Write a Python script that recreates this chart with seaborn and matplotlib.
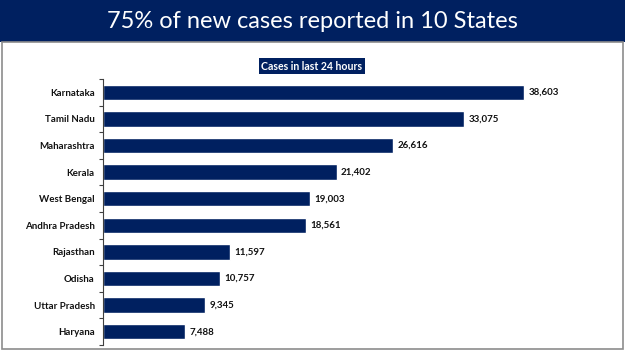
import pandas as pd
import matplotlib
matplotlib.use('Agg')
import matplotlib.pyplot as plt
import seaborn as sns
from matplotlib.patches import Rectangle

states = ['Karnataka', 'Tamil Nadu', 'Maharashtra', 'Kerala', 'West Bengal',
          'Andhra Pradesh', 'Rajasthan', 'Odisha', 'Uttar Pradesh', 'Haryana']
cases = [38603, 33075, 26616, 21402, 19003, 18561, 11597, 10757, 9345, 7488]

NAVY = '#002060'


def main():
    df = pd.DataFrame({'state': states, 'cases': cases})
    sns.set_style('white')
    plt.rcParams['font.family'] = ['Lato', 'DejaVu Sans']

    fig = plt.figure(figsize=(6.25, 3.51), dpi=100)
    W, H = 625, 351

    # title band and panel border
    fig.patches.append(Rectangle((0, 1 - 42 / H), 1, 42 / H, transform=fig.transFigure,
                                 facecolor=NAVY, edgecolor='none', zorder=0))
    fig.patches.append(Rectangle((2 / W, 2 / H), 621 / W, (H - 44) / H, transform=fig.transFigure,
                                 facecolor='none', edgecolor='#8c8c8c', linewidth=1.2, zorder=0))
    fig.text(0.5, 1 - 21 / H, '75% of new cases reported in 10 States', color='white',
             fontsize=17, ha='center', va='center')
    fig.text(312 / W, 1 - 66 / H, 'Cases in last 24 hours', color='white', fontsize=7.6,
             fontweight='bold', ha='center', va='center',
             bbox=dict(boxstyle='square,pad=0.25', facecolor=NAVY, edgecolor='none'))

    ax = fig.add_axes([103 / W, 6 / H, 491 / W, 266 / H])
    sns.barplot(data=df, y='state', x='cases', orient='h', color=NAVY, width=0.58,
                saturation=1, ax=ax)
    ax.set_xlim(0, 45000)
    ax.set_xlabel('')
    ax.set_ylabel('')
    ax.set_xticks([])
    for s in ['top', 'right', 'bottom']:
        ax.spines[s].set_visible(False)
    ax.spines['left'].set_color('#404040')
    ax.spines['left'].set_linewidth(0.8)
    ax.tick_params(axis='y', which='major', length=0, pad=6)
    ax.set_yticks([i - 0.5 for i in range(len(states) + 1)], minor=True)
    ax.tick_params(axis='y', which='minor', left=True, length=3, color='#404040', width=0.8)
    for lbl in ax.get_yticklabels():
        lbl.set_fontweight('bold')
        lbl.set_fontsize(7)
        lbl.set_color('#111111')
    for i, v in enumerate(cases):
        ax.text(v + 400, i, f'{v:,}', va='center', ha='left', fontsize=7,
                fontweight='bold', color='#111111')

    fig.savefig('out.png', dpi=100)


if __name__ == '__main__':
    main()
